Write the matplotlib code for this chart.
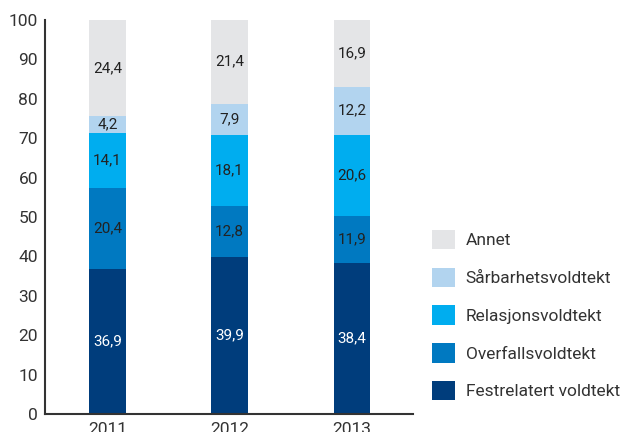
import matplotlib
matplotlib.use("Agg")
import matplotlib.pyplot as plt
import numpy as np

# data (andeler i prosent)
years = ["2011", "2012", "2013"]
kategorier = ["Festrelatert voldtekt", "Overfallsvoldtekt", "Relasjonsvoldtekt",
              "Sårbarhetsvoldtekt", "Annet"]
festrelatert = [36.9, 39.9, 38.4]
overfall     = [20.4, 12.8, 11.9]
relasjon     = [14.1, 18.1, 20.6]
saarbarhet   = [4.2, 7.9, 12.2]
annet        = [24.4, 21.4, 16.9]

farger = ["#003d7c", "#0079c1", "#00adef", "#b2d4ef", "#e4e5e7"]
tekstfarge = ["white", "#222222", "#222222", "#222222", "#222222"]

plt.rcParams['font.family'] = ['Roboto', 'DejaVu Sans']

fig = plt.figure(figsize=(6.24, 4.32), dpi=100)
ax = fig.add_axes([45/624, 18/432, (413-45)/624, (414-20)/432])

serier = [festrelatert, overfall, relasjon, saarbarhet, annet]
x = np.arange(len(years))
bunn = np.zeros(len(years))
handles = []
for verdier, farge, tf, navn in zip(serier, farger, tekstfarge, kategorier):
    verdier = np.array(verdier)
    b = ax.bar(x, verdier, width=0.30, bottom=bunn, color=farge, label=navn)
    handles.append(b)
    for xi, v, bo in zip(x, verdier, bunn):
        ax.text(xi, bo + v/2, f"{v:.1f}".replace(".", ","), ha="center", va="center",
                color=tf, fontsize=11)
    bunn += verdier

ax.set_xlim(-0.51, 2.5)
ax.set_ylim(0, 100)
ax.set_yticks(range(0, 101, 10))
ax.set_xticks(x)
ax.set_xticklabels(years)
ax.tick_params(length=0, labelsize=12.5, colors="#333333")
ax.tick_params(axis="x", pad=6)
ax.tick_params(axis="y", pad=5)
for s in ["top", "right"]:
    ax.spines[s].set_visible(False)
for s in ["left", "bottom"]:
    ax.spines[s].set_color("#333333")
    ax.spines[s].set_linewidth(1.5)

leg = fig.legend(handles[::-1], kategorier[::-1], loc="upper left",
                 bbox_to_anchor=(425/624, 1 - 223/432), frameon=False,
                 fontsize=12.5, labelspacing=1.05, handlelength=1.35, handleheight=1.35,
                 handletextpad=0.6, borderaxespad=0)
for t in leg.get_texts():
    t.set_color("#333333")

fig.savefig("out.png", dpi=100)
